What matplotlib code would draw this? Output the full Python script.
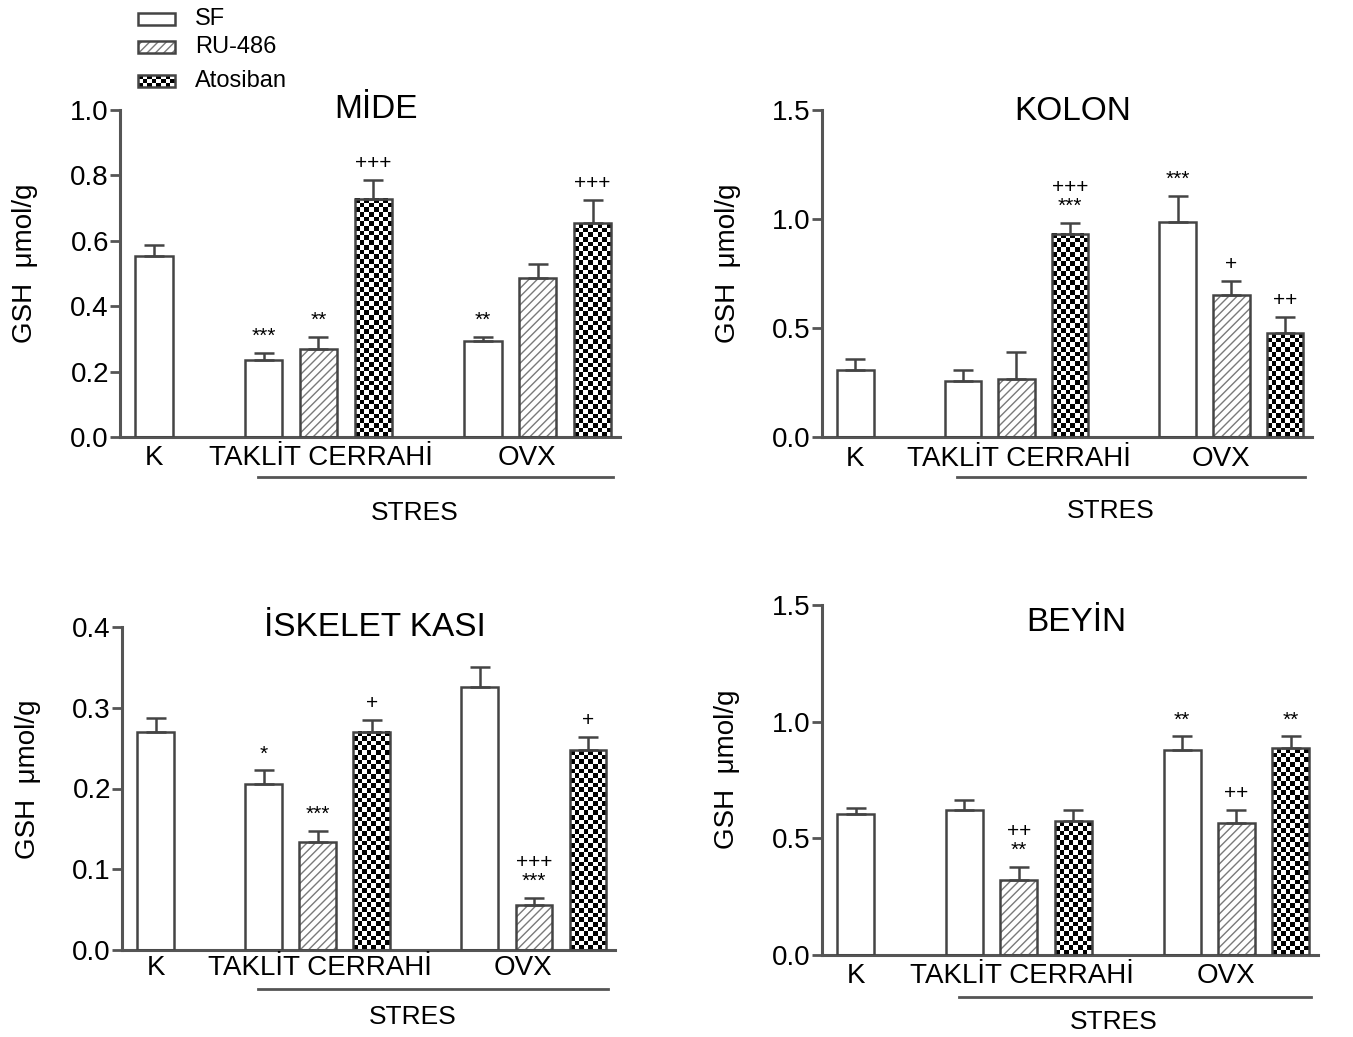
import numpy as np
import matplotlib
matplotlib.use("Agg")
import matplotlib.pyplot as plt
import matplotlib.transforms as mtrans
from matplotlib.patches import Rectangle

plt.rcParams['font.family'] = ['Liberation Sans Narrow', 'Liberation Sans', 'DejaVu Sans']

W, H = 1353, 1037

series = ['SF', 'RU-486', 'Atosiban']
groups = ['K', 'TAKLİT CERRAHİ', 'OVX']
group_x = [0, 3.05, 6.8]

# bar order: K, Taklit SF/RU/Ato, OVX SF/RU/Ato
bar_x = [0, 2, 3, 4, 6, 7, 8]
bar_kind = [0, 0, 1, 2, 0, 1, 2]

mide_mean = [0.552, 0.237, 0.269, 0.729, 0.293, 0.485, 0.654]
mide_sem = [0.035, 0.021, 0.037, 0.058, 0.014, 0.043, 0.070]
mide_marks = ['', '***', '**', '+++', '**', '', '+++']

kolon_mean = [0.308, 0.258, 0.264, 0.933, 0.986, 0.652, 0.475]
kolon_sem = [0.049, 0.049, 0.127, 0.050, 0.120, 0.063, 0.077]
kolon_marks = ['', '', '', '+++\n***', '***', '+', '++']

kas_mean = [0.2705, 0.2057, 0.1336, 0.2705, 0.3258, 0.0561, 0.2475]
kas_sem = [0.0165, 0.0168, 0.0139, 0.0139, 0.025, 0.0087, 0.0168]
kas_marks = ['', '*', '***', '+', '', '+++\n***', '+']

beyin_mean = [0.605, 0.623, 0.321, 0.574, 0.878, 0.567, 0.887]
beyin_sem = [0.026, 0.040, 0.055, 0.047, 0.059, 0.053, 0.050]
beyin_marks = ['', '', '++\n**', '', '**', '++', '**']

panels = [
    # title, mean, sem, marks, ymax, yticks, yticklabels,
    # axes rect (px: left, top, right, bottom), title y, offsets below axis (pt: labels, line, STRES)
    ('MİDE', mide_mean, mide_sem, mide_marks, 1.0, [0, 0.2, 0.4, 0.6, 0.8, 1.0],
     ['0.0', '0.2', '0.4', '0.6', '0.8', '1.0'], (120, 110, 620, 437), 1.0, (15, 29, 55)),
    ('KOLON', kolon_mean, kolon_sem, kolon_marks, 1.5, [0, 0.5, 1.0, 1.5],
     ['0.0', '0.5', '1.0', '1.5'], (822, 110, 1312, 437), 0.995, (16, 29, 53)),
    ('İSKELET KASI', kas_mean, kas_sem, kas_marks, 0.4, [0, 0.1, 0.2, 0.3, 0.4],
     ['0.0', '0.1', '0.2', '0.3', '0.4'], (122, 627, 615, 950), 1.0, (13, 28, 48)),
    ('BEYİN', beyin_mean, beyin_sem, beyin_marks, 1.5, [0, 0.5, 1.0, 1.5],
     ['0.0', '0.5', '1.0', '1.5'], (822, 605, 1318, 955), 0.95, (15, 30, 48)),
]

AX_COL = '#555555'
EDGE = '#444444'
BAR_W = 0.68


def checker(ax, x0, y0, w, h, cell=4.7, z=2):
    (px0, py0), (px1, py1) = ax.transData.transform([(x0, y0), (x0 + w, y0 + h)])
    nc = max(1, int(round(abs(px1 - px0) / cell)))
    nr = max(1, int(round(abs(py1 - py0) / cell)))
    img = np.add.outer(np.arange(nr), np.arange(nc)) % 2
    ax.imshow(img, extent=(x0, x0 + w, y0, y0 + h), cmap='gray', vmin=0, vmax=1,
              interpolation='nearest', aspect='auto', origin='lower', zorder=z)


fig = plt.figure(figsize=(W / 100, H / 100), dpi=100)

for title, mean, sem, marks, ymax, yt, ytl, rect, ty, offs in panels:
    l, t, r, b = rect
    ax = fig.add_axes([l / W, 1 - b / H, (r - l) / W, (b - t) / H])
    ax.set_xlim(-0.62, 8.5)
    ax.set_ylim(0, ymax)

    x = np.array(bar_x, dtype=float)
    mean = np.array(mean)
    sem = np.array(sem)
    kind = np.array(bar_kind)

    ax.bar(x, mean, width=BAR_W, color='white', edgecolor='none', zorder=1)
    hx = kind == 1
    ax.bar(x[hx], mean[hx], width=BAR_W, facecolor='none', edgecolor='#7a7a7a',
           hatch='////', linewidth=0, zorder=2)
    for xi, m, k in zip(x, mean, kind):
        if k == 2:
            checker(ax, xi - BAR_W / 2, 0, BAR_W, m)
    ax.bar(x, mean, width=BAR_W, facecolor='none', edgecolor=EDGE, linewidth=1.8, zorder=3)
    ax.errorbar(x, mean, yerr=[np.zeros_like(sem), sem], fmt='none', ecolor=EDGE,
                elinewidth=1.8, capsize=7, capthick=1.8, zorder=2.5)

    for xi, m, s, mk in zip(x, mean, sem, marks):
        if mk:
            ax.annotate(mk, (xi, m + s), xytext=(0, 5), textcoords='offset points',
                        ha='center', va='bottom', fontsize=15, linespacing=1.0)

    ax.set_xlim(-0.62, 8.5)
    ax.set_ylim(0, ymax)

    for sp in ['top', 'right']:
        ax.spines[sp].set_visible(False)
    for sp in ['left', 'bottom']:
        ax.spines[sp].set_color(AX_COL)
        ax.spines[sp].set_linewidth(2.2)
    ax.set_xticks([])
    ax.set_yticks(yt)
    ax.set_yticklabels(ytl)
    ax.tick_params(axis='y', direction='out', length=7, width=2, color=AX_COL,
                   labelsize=20, pad=1)
    ax.patch.set_visible(False)

    ax.set_ylabel('GSH  μmol/g', fontsize=20)
    ax.yaxis.set_label_coords(-0.165, 0.53)

    ax.text(4.05, ty, title, transform=ax.get_xaxis_transform(), ha='center',
            va='center', fontsize=24)

    lab_off, line_off, stres_off = offs
    for g, gx in zip(groups, group_x):
        ax.annotate(g, (gx, 0), xycoords=ax.get_xaxis_transform(), xytext=(0, -lab_off),
                    textcoords='offset points', ha='center', va='center', fontsize=20)
    off = mtrans.ScaledTranslation(0, -line_off / 72, fig.dpi_scale_trans)
    ax.plot([1.9, 8.37], [0, 0], color=AX_COL, lw=2, clip_on=False,
            transform=ax.get_xaxis_transform() + off)
    ax.annotate('STRES', (4.75, 0), xycoords=ax.get_xaxis_transform(), xytext=(0, -stres_off),
                textcoords='offset points', ha='center', va='center', fontsize=19)

# legend drawn in pixel coordinates
lg = fig.add_axes([0, 0, 1, 1])
lg.set_xlim(0, W)
lg.set_ylim(H, 0)
lg.axis('off')
rows_y = [19, 47, 81]
for i, (name, yc) in enumerate(zip(series, rows_y)):
    bx, bw, bh = 138, 37, 12
    lg.add_patch(Rectangle((bx, yc - bh / 2), bw, bh, facecolor='white', edgecolor='none', zorder=1))
    if i == 1:
        lg.add_patch(Rectangle((bx, yc - bh / 2), bw, bh, facecolor='none', edgecolor='#7a7a7a',
                               hatch='////', linewidth=0, zorder=2))
    if i == 2:
        img = np.add.outer(np.arange(3), np.arange(8)) % 2
        lg.imshow(img, extent=(bx, bx + bw, yc + bh / 2, yc - bh / 2), cmap='gray', vmin=0,
                  vmax=1, interpolation='nearest', aspect='auto', zorder=2)
    lg.add_patch(Rectangle((bx, yc - bh / 2), bw, bh, facecolor='none', edgecolor=EDGE,
                           linewidth=1.8, zorder=3))
    lg.text(195, yc, name, ha='left', va='center', fontsize=17)
lg.set_xlim(0, W)
lg.set_ylim(H, 0)

fig.savefig('out.png', dpi=100)
